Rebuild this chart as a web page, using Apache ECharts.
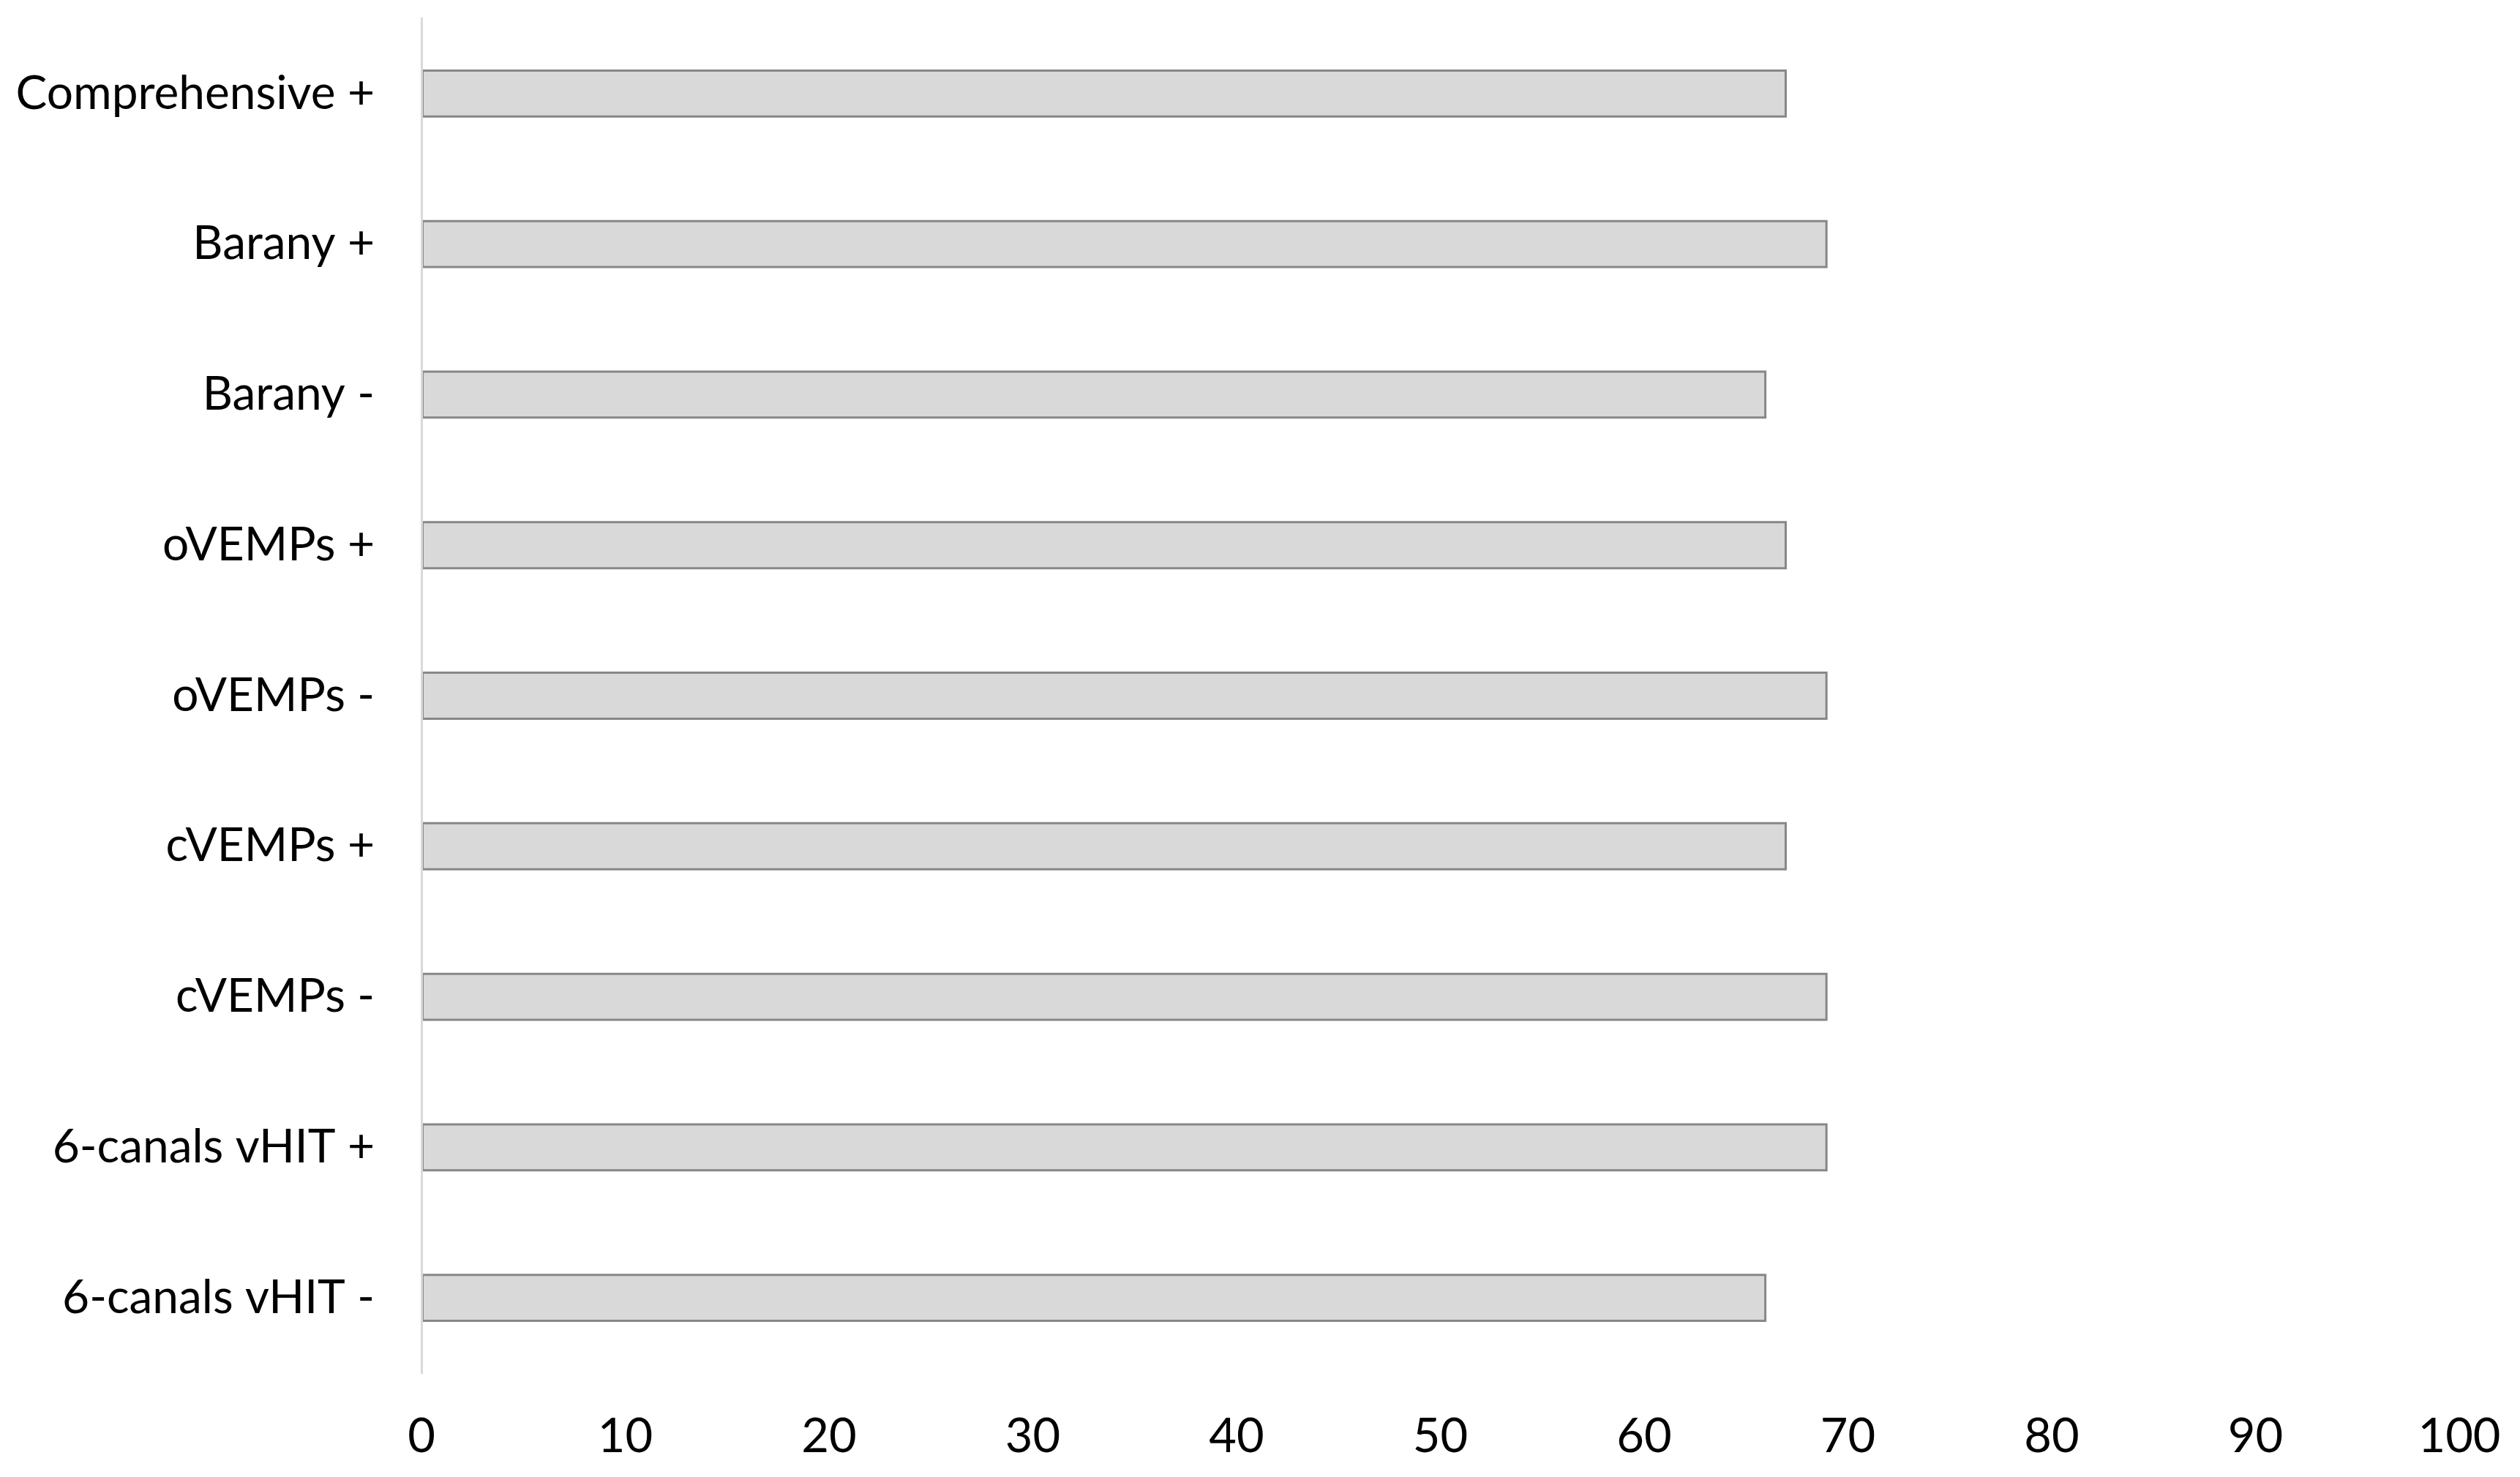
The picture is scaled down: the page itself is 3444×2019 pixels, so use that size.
<!DOCTYPE html>
<html>
<head>
<meta charset="utf-8">
<style>
  html, body { margin: 0; padding: 0; background: #ffffff; }
  #chart { width: 3444px; height: 2019px; }
</style>
<script src="https://cdn.jsdelivr.net/npm/echarts@6/dist/echarts.min.js"></script>
</head>
<body>
<div id="chart"></div>
<script>
// Test categories, listed bottom to top as the category axis draws them
const categories = [
  '6-canals vHIT -',
  '6-canals vHIT +',
  'cVEMPs -',
  'cVEMPs +',
  'oVEMPs -',
  'oVEMPs +',
  'Barany -',
  'Barany +',
  'Comprehensive +'
];

// Values, same order as categories
const values = [66, 69, 69, 67, 69, 67, 66, 69, 67];

// Value axis ticks
const xTicks = [0, 10, 20, 30, 40, 50, 60, 70, 80, 90, 100];

const chart = echarts.init(document.getElementById('chart'), null, { renderer: 'canvas' });

const labelFont = 'Lato, "Open Sans", sans-serif';

chart.setOption({
  animation: false,
  backgroundColor: '#ffffff',
  grid: { left: 576, right: 83, top: 25, bottom: 142, containLabel: false },
  xAxis: {
    type: 'value',
    min: xTicks[0],
    max: xTicks[xTicks.length - 1],
    interval: xTicks[1] - xTicks[0],
    axisLine: { show: false },
    axisTick: { show: false },
    splitLine: { show: false },
    axisLabel: {
      color: '#000000',
      fontSize: 65,
      fontFamily: labelFont,
      margin: 55
    }
  },
  yAxis: {
    type: 'category',
    data: categories,
    z: 5,
    axisLine: { show: true, lineStyle: { color: '#d9d9d9', width: 3 } },
    axisTick: { show: false },
    splitLine: { show: false },
    axisLabel: {
      color: '#000000',
      fontSize: 64,
      fontFamily: labelFont,
      margin: 64
    }
  },
  series: [{
    type: 'bar',
    data: values,
    barCategoryGap: '68%',
    itemStyle: {
      color: '#d9d9d9',
      borderColor: '#878787',
      borderWidth: 3
    }
  }]
});
</script>
</body>
</html>
